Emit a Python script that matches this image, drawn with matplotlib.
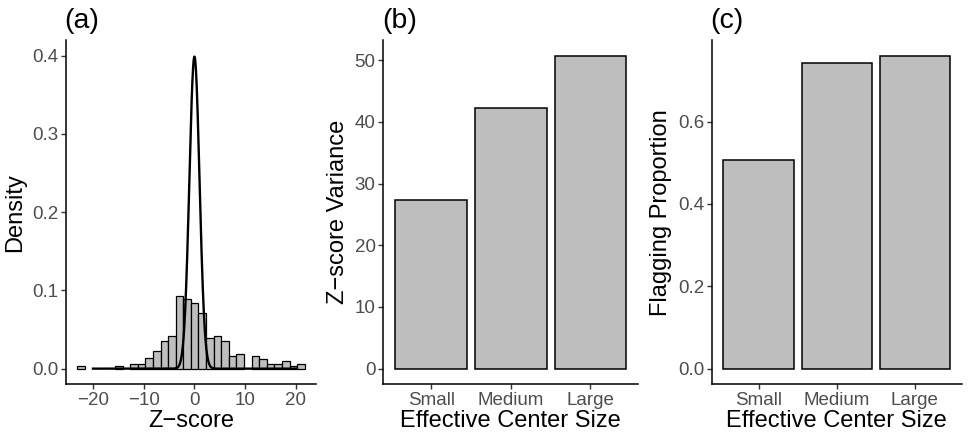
import numpy as np
import matplotlib
matplotlib.use("Agg")
import matplotlib.pyplot as plt

plt.rcParams["font.family"] = ["Liberation Sans", "DejaVu Sans"]

# Panel (a): histogram of z-scores (density scale), 30 bins
hist_left = -23.14
hist_binwidth = 1.496
hist_density = [0.0032, 0, 0, 0, 0, 0.0032, 0, 0.0064, 0.0064, 0.013,
                0.023, 0.0354, 0.0418, 0.093, 0.0895, 0.0836, 0.0708, 0.0388, 0.0418, 0.0354,
                0.0162, 0.0192, 0, 0.0162, 0.0128, 0.0064, 0.0064, 0.0102, 0.0032, 0.0064]
# reference curve: standard normal density drawn over [-20, 20]
norm_mean, norm_sd = 0.0, 1.0
norm_range = (-20, 20)

# Panels (b) and (c)
sizes = ["Small", "Medium", "Large"]
z_variance = [27.35, 42.27, 50.7]
flag_prop = [0.506, 0.743, 0.760]

FILL = "#BEBEBE"
TICK_COLOR = "#4D4D4D"
TICK_SIZE = 13.5
TITLE_SIZE = 17


def style_axes(ax):
    for side in ("top", "right"):
        ax.spines[side].set_visible(False)
    for side in ("left", "bottom"):
        ax.spines[side].set_linewidth(1.1)
        ax.spines[side].set_color("black")
    ax.tick_params(axis="both", which="both", direction="out", length=3.5, width=1.0,
                   color="#333333", labelcolor=TICK_COLOR, labelsize=TICK_SIZE, pad=2)


def panel_label(ax, text):
    ax.text(-0.006, 1.035, text, transform=ax.transAxes, ha="left", va="baseline",
            fontsize=20.5, color="black")


fig = plt.figure(figsize=(9.69, 4.41), dpi=100)

# ---- (a)
ax1 = fig.add_axes([0.0678, 0.1286, 0.2584, 0.7804])
edges = hist_left + hist_binwidth * np.arange(len(hist_density) + 1)
dens = np.array(hist_density)
keep = dens > 0
ax1.bar(edges[:-1][keep], dens[keep], width=hist_binwidth, align="edge",
        color=FILL, edgecolor="black", linewidth=0.9, zorder=2)
zz = np.linspace(norm_range[0], norm_range[1], 801)
ax1.plot(zz, np.exp(-0.5 * ((zz - norm_mean) / norm_sd) ** 2) / (norm_sd * np.sqrt(2 * np.pi)),
         color="black", linewidth=1.7, zorder=3)
span = edges[-1] - edges[0]
ax1.set_xlim(edges[0] - 0.05 * span, edges[-1] + 0.05 * span)
ax1.set_ylim(-0.02, 0.42)
ax1.set_xticks([-20, -10, 0, 10, 20])
ax1.set_xticklabels(["\u221220", "\u221210", "0", "10", "20"])
ax1.set_yticks([0.0, 0.1, 0.2, 0.3, 0.4])
ax1.set_yticklabels(["0.0", "0.1", "0.2", "0.3", "0.4"])
ax1.set_xlabel("Z\u2212score", fontsize=TITLE_SIZE, labelpad=1)
ax1.set_ylabel("Density", fontsize=TITLE_SIZE, labelpad=4)
style_axes(ax1)
panel_label(ax1, "(a)")

# ---- (b)
ax2 = fig.add_axes([0.3956, 0.1286, 0.2631, 0.7804])
xpos = np.arange(1, len(sizes) + 1)
ax2.bar(xpos, z_variance, width=0.9, color=FILL, edgecolor="black", linewidth=1.1)
ax2.set_xlim(0.4, 3.6)
ax2.set_ylim(-0.05 * max(z_variance), 1.05 * max(z_variance))
ax2.set_xticks(xpos)
ax2.set_xticklabels(sizes)
ax2.set_yticks([0, 10, 20, 30, 40, 50])
ax2.set_xlabel("Effective Center Size", fontsize=TITLE_SIZE, labelpad=1)
ax2.set_ylabel("Z\u2212score Variance", fontsize=TITLE_SIZE, labelpad=4)
style_axes(ax2)
panel_label(ax2, "(b)")

# ---- (c)
ax3 = fig.add_axes([0.7345, 0.1286, 0.258, 0.7804])
ax3.bar(xpos, flag_prop, width=0.9, color=FILL, edgecolor="black", linewidth=1.1)
ax3.set_xlim(0.4, 3.6)
ax3.set_ylim(-0.05 * max(flag_prop), 1.05 * max(flag_prop))
ax3.set_xticks(xpos)
ax3.set_xticklabels(sizes)
ax3.set_yticks([0.0, 0.2, 0.4, 0.6])
ax3.set_yticklabels(["0.0", "0.2", "0.4", "0.6"])
ax3.set_xlabel("Effective Center Size", fontsize=TITLE_SIZE, labelpad=1)
ax3.set_ylabel("Flagging Proportion", fontsize=TITLE_SIZE, labelpad=4)
style_axes(ax3)
panel_label(ax3, "(c)")

fig.savefig("out.png", dpi=100)
